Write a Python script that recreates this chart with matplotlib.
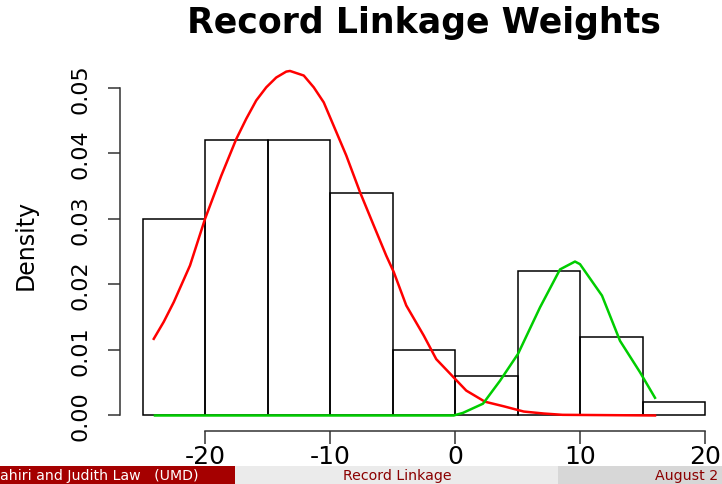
import matplotlib
matplotlib.use("Agg")
import matplotlib.pyplot as plt
from matplotlib.patches import Rectangle

# ---- data ----
bin_edges = [-25, -20, -15, -10, -5, 0, 5, 10, 15, 20]
density = [0.030, 0.042, 0.042, 0.034, 0.010, 0.006, 0.022, 0.012, 0.002]

red_x = [-24.1, -23.3, -22.5, -21.2, -20.0, -18.7, -17.5, -16.7, -15.9, -15.1, -14.3,
         -13.5, -13.2, -12.1, -11.3, -10.5, -9.7, -8.7, -7.6, -6.5, -5.5, -4.9,
         -3.9, -2.5, -1.5, -0.1, 0.9, 2.4, 3.9, 5.5, 7.1, 8.6, 16.0]
red_y = [0.0117, 0.0143, 0.0173, 0.0229, 0.0300, 0.0366, 0.0422, 0.0453, 0.0481, 0.0501,
         0.0516, 0.0525, 0.0526, 0.0519, 0.0501, 0.0478, 0.0442, 0.0397, 0.0341,
         0.0290, 0.0244, 0.0219, 0.0168, 0.0122, 0.0086, 0.0058, 0.0038, 0.0021,
         0.0014, 0.0006, 0.0003, 0.0001, 0.0]

green_x = [-24.0, -0.1, 0.64, 2.24, 3.6, 5.04, 6.8, 8.4, 9.6, 10.0, 11.76, 13.2, 14.8, 16.0]
green_y = [0.0, 0.0, 0.0004, 0.0018, 0.0053, 0.0094, 0.0165, 0.0223, 0.0235, 0.0231,
           0.0183, 0.0114, 0.0066, 0.0027]

x_ticks = [-20, -10, 0, 10, 20]
y_ticks = [0.00, 0.01, 0.02, 0.03, 0.04, 0.05]
y_tick_labels = ["0.00", "0.01", "0.02", "0.03", "0.04", "0.05"]

title = "Record Linkage Weights"
ylabel = "Density"
footer_left = "ahiri and Judith Law   (UMD)"
footer_mid = "Record Linkage"
footer_right = "August 2"

# ---- figure ----
W, H = 722, 485
fig = plt.figure(figsize=(W / 100, H / 100), dpi=100)
fig.patch.set_facecolor("white")

ax_left, ax_right, ax_top, ax_bot = 120, 727.5, 58, 432
ax = fig.add_axes([ax_left / W, (H - ax_bot) / H, (ax_right - ax_left) / W, (ax_bot - ax_top) / H])
ax.set_facecolor("none")

lefts = bin_edges[:-1]
widths = [b - a for a, b in zip(bin_edges[:-1], bin_edges[1:])]
ax.bar(lefts, density, width=widths, align="edge", fill=False,
       edgecolor="black", linewidth=1.1)

ax.plot(red_x, red_y, color="#ff0000", linewidth=1.8, solid_joinstyle="round")
ax.plot(green_x, green_y, color="#00cd00", linewidth=1.8, solid_joinstyle="round")

ax.set_xlim(-26.8, 21.8)
ax.set_ylim(-0.00237, 0.05473)

for s in ["top", "right"]:
    ax.spines[s].set_visible(False)
ax.spines["left"].set_bounds(0, 0.05)
ax.spines["bottom"].set_bounds(-20, 20)
for s in ["left", "bottom"]:
    ax.spines[s].set_linewidth(1.1)
    ax.spines[s].set_color("#333333")

ax.set_xticks(x_ticks)
ax.set_xticklabels([str(t) for t in x_ticks])
ax.set_yticks(y_ticks)
ax.set_yticklabels(y_tick_labels)
ax.tick_params(axis="both", direction="out", length=9, width=1.1, color="#333333")
ax.tick_params(axis="x", labelsize=18, pad=0.5)
ax.tick_params(axis="y", labelsize=16, pad=12, labelrotation=90)
for lab in ax.get_yticklabels():
    lab.set_va("center")

fig.text(423.7 / W, 1 - 33 / H, title, ha="center", va="baseline",
         fontsize=25, fontweight="bold", family="DejaVu Sans")
fig.text(26 / W, 1 - 245 / H, ylabel, rotation=90, ha="center", va="center", fontsize=17)

# ---- footer bar ----
fb_top = 466.7
fh = (H - fb_top) / H
fig.add_artist(Rectangle((0, 0), 235 / W, fh, transform=fig.transFigure,
                         facecolor="#a50000", edgecolor="none"))
fig.add_artist(Rectangle((235 / W, 0), (558 - 235) / W, fh, transform=fig.transFigure,
                         facecolor="#ebebeb", edgecolor="none"))
fig.add_artist(Rectangle((558 / W, 0), (W - 558) / W, fh, transform=fig.transFigure,
                         facecolor="#d7d7d7", edgecolor="none"))
fy = fh / 2
fig.text(0.5 / W, fy, footer_left, ha="left", va="center", fontsize=10.2, color="white")
fig.text(397 / W, fy, footer_mid, ha="center", va="center", fontsize=10.2, color="#8b0000")
fig.text(655 / W, fy, footer_right, ha="left", va="center", fontsize=10.2, color="#8b0000")

fig.savefig("out.png", dpi=100)
